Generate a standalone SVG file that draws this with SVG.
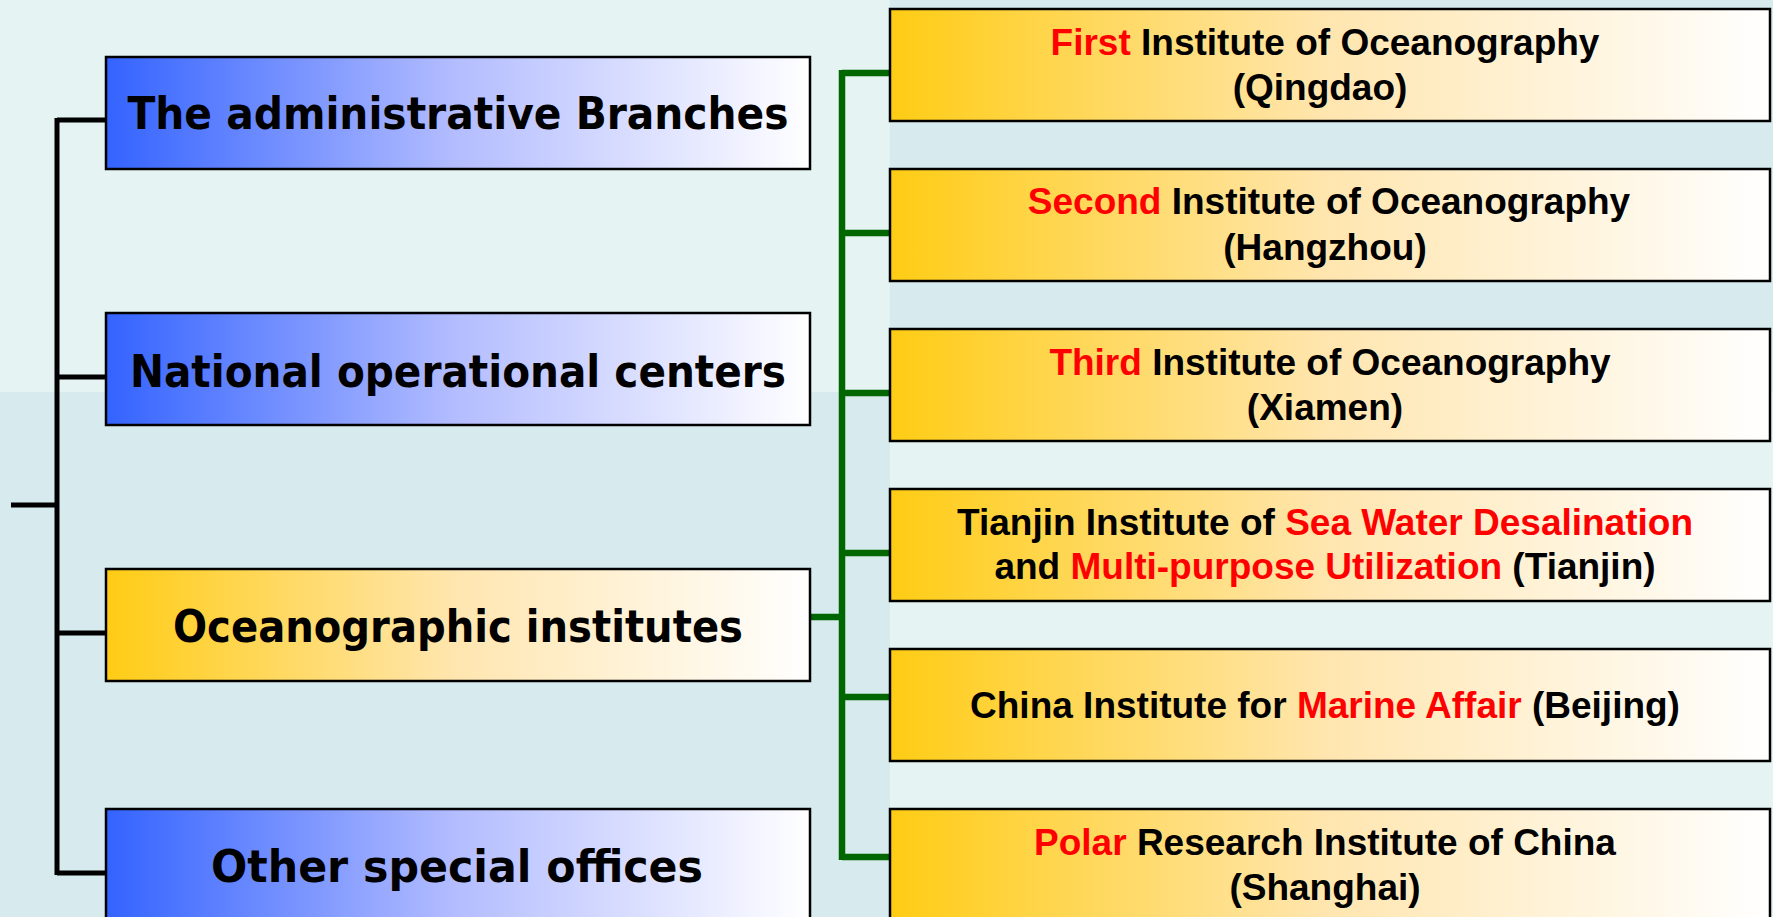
<svg xmlns="http://www.w3.org/2000/svg" width="1773" height="917" viewBox="0 0 1773 917">
<defs>
<linearGradient id="gBlue" x1="0" y1="0" x2="1" y2="0">
<stop offset="0" stop-color="#3363ff"/>
<stop offset="0.5" stop-color="#b4bdff"/>
<stop offset="1" stop-color="#ffffff"/>
</linearGradient>
<linearGradient id="gGold" x1="0" y1="0" x2="1" y2="0">
<stop offset="0" stop-color="#ffcc14"/>
<stop offset="0.5" stop-color="#ffe6b0"/>
<stop offset="1" stop-color="#ffffff"/>
</linearGradient>
<style>
.blue{fill:url(#gBlue);stroke:#000;stroke-width:2.5}
.gold{fill:url(#gGold);stroke:#000;stroke-width:2.5}
.lt{font-family:"DejaVu Sans","Liberation Sans",sans-serif;font-weight:bold;font-size:45px;fill:#000;text-anchor:middle}
.rt{font-family:"Liberation Sans",Arial,sans-serif;font-weight:bold;font-size:37px;fill:#000;text-anchor:middle}
.red{fill:#ff0000}
.blk{fill:none;stroke:#000;stroke-width:5}
.grn{fill:none;stroke:#006600;stroke-width:6.5}
</style>
</defs>
<rect x="0" y="0" width="890" height="392" fill="#e5f3f3"/>
<rect x="0" y="392" width="890" height="525" fill="#d7ebee"/>
<rect x="890" y="0" width="883" height="392" fill="#d7ebee"/>
<rect x="890" y="392" width="883" height="525" fill="#e5f3f3"/>
<g id="connectors">
<path class="blk" d="M57,118 V875 M57,120 H106 M57,377 H106 M57,633 H106 M57,873 H106 M11,505 H57"/>
<path class="grn" d="M842,70 V860 M842,73 H890 M842,233 H890 M842,393 H890 M842,553 H890 M842,697 H890 M842,857 H890 M810,617 H842"/>
</g>
<g id="admin">
<rect class="blue" x="106" y="57" width="704" height="112"/>
<text class="lt" x="458" y="129" textLength="661" lengthAdjust="spacingAndGlyphs">The administrative Branches</text>
</g>
<g id="national">
<rect class="blue" x="106" y="313" width="704" height="112"/>
<text class="lt" x="458" y="387" textLength="656" lengthAdjust="spacingAndGlyphs">National operational centers</text>
</g>
<g id="oceanographic">
<rect class="gold" x="106" y="569" width="704" height="112"/>
<text class="lt" x="458" y="642" textLength="570" lengthAdjust="spacingAndGlyphs">Oceanographic institutes</text>
</g>
<g id="other">
<rect class="blue" x="106" y="809" width="704" height="120"/>
<text class="lt" x="457" y="882" textLength="492" lengthAdjust="spacingAndGlyphs">Other special offices</text>
</g>
<g id="first">
<rect class="gold" x="890" y="9" width="880" height="112"/>
<text class="rt" x="1325" y="55"><tspan class="red">First</tspan> Institute of Oceanography</text>
<text class="rt" x="1320" y="100">(Qingdao)</text>
</g>
<g id="second">
<rect class="gold" x="890" y="169" width="880" height="112"/>
<text class="rt" x="1329" y="214"><tspan class="red">Second</tspan> Institute of Oceanography</text>
<text class="rt" x="1325" y="260">(Hangzhou)</text>
</g>
<g id="third">
<rect class="gold" x="890" y="329" width="880" height="112"/>
<text class="rt" x="1330" y="375"><tspan class="red">Third</tspan> Institute of Oceanography</text>
<text class="rt" x="1325" y="420">(Xiamen)</text>
</g>
<g id="tianjin">
<rect class="gold" x="890" y="489" width="880" height="112"/>
<text class="rt" x="1325" y="535">Tianjin Institute of <tspan class="red">Sea Water Desalination</tspan></text>
<text class="rt" x="1325" y="579">and <tspan class="red">Multi-purpose Utilization</tspan> (Tianjin)</text>
</g>
<g id="marine">
<rect class="gold" x="890" y="649" width="880" height="112"/>
<text class="rt" x="1325" y="718">China Institute for <tspan class="red">Marine Affair</tspan> (Beijing)</text>
</g>
<g id="polar">
<rect class="gold" x="890" y="809" width="880" height="120"/>
<text class="rt" x="1325" y="855"><tspan class="red">Polar</tspan> Research Institute of China</text>
<text class="rt" x="1325" y="900">(Shanghai)</text>
</g>
</svg>
